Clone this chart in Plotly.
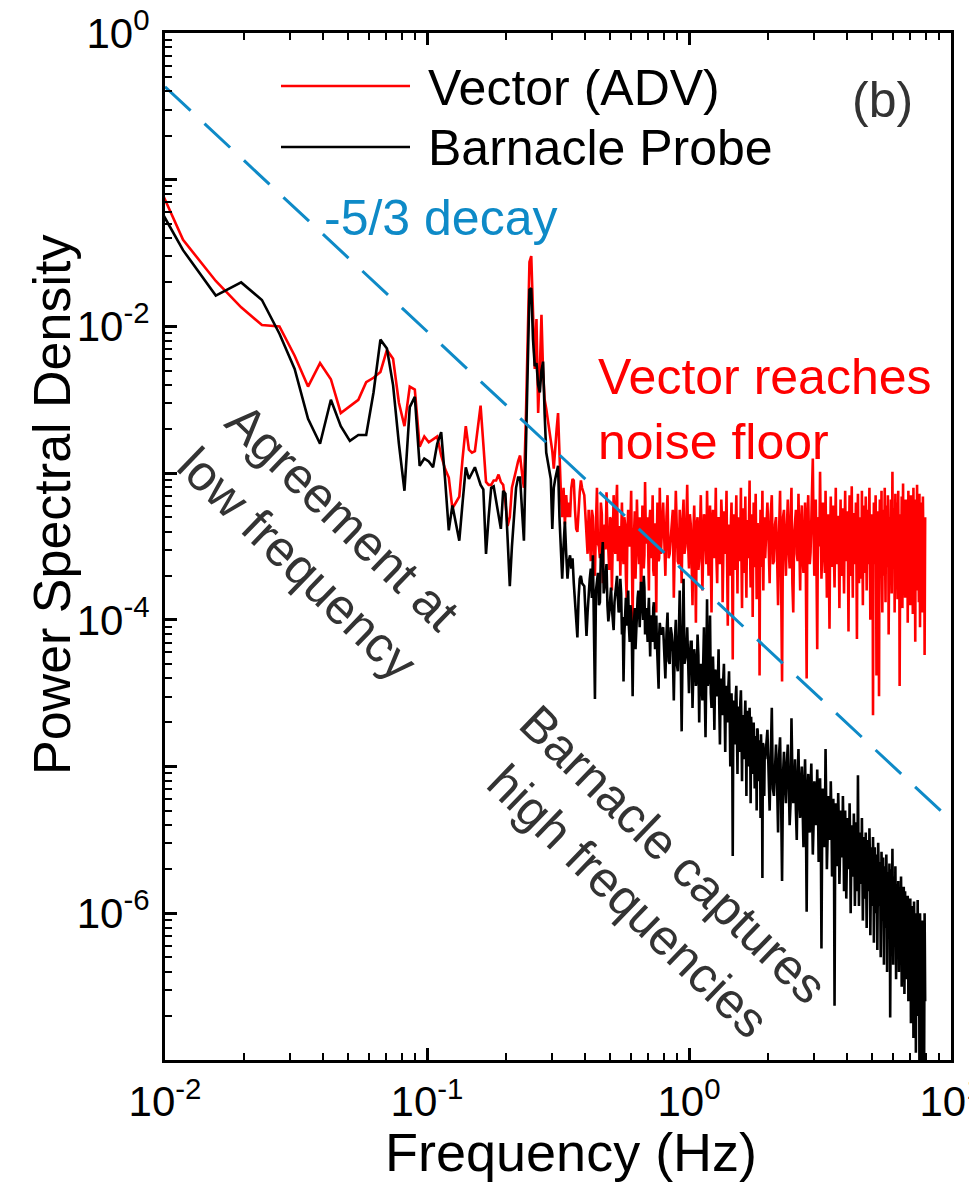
import numpy as np
import plotly.graph_objects as go

# ---------------- data ----------------
DF_HZ = 1.0 / 256.0          # spectral resolution (Hz per bin)

# log10(PSD), one value per bin, bins 2..100
vector_low = [
    -0.71, -1.41, -1.69, -1.87, -1.99, -2.00, -2.20, -2.41, -2.25, -2.36,
    -2.59, -2.54, -2.50, -2.38, -2.35, -2.31, -2.16, -2.22, -2.52, -2.68,
    -2.41, -2.43, -2.82, -2.75, -2.79, -2.77, -2.75, -2.88, -2.97, -3.03,
    -3.24, -3.20, -3.16, -2.90, -2.68, -2.84, -2.86, -2.85, -2.70, -2.54,
    -2.80, -3.06, -3.08, -3.08, -3.05, -3.05, -3.01, -3.06, -3.08, -3.20,
    -3.36, -3.30, -3.10, -3.03, -2.98, -2.92, -2.88, -3.00, -3.10, -2.65,
    -2.05, -1.56, -1.52, -1.85, -2.29, -1.95, -2.59, -2.30, -1.92, -2.31,
    -2.50, -2.56, -2.63, -2.70, -2.77, -2.85, -2.97, -2.80, -2.70, -2.59,
    -2.90, -3.13, -3.30, -3.10, -3.35, -3.15, -3.30, -3.20, -3.30, -3.10,
    -3.04, -3.05, -3.25, -3.38, -3.40, -3.20, -3.13, -3.05, -3.10,
]
barnacle_low = [
    -0.92, -1.48, -1.79, -1.70, -1.82, -2.05, -2.29, -2.63, -2.80, -2.50,
    -2.68, -2.78, -2.74, -2.74, -2.45, -2.09, -2.15, -2.40, -2.80, -3.12,
    -2.55, -2.48, -2.95, -2.90, -2.92, -2.96, -2.80, -2.72, -3.04, -3.39,
    -3.22, -3.35, -3.46, -3.20, -2.96, -3.04, -3.00, -2.96, -3.02, -3.08,
    -3.11, -3.55, -3.30, -3.10, -3.09, -3.20, -3.30, -3.38, -3.12, -3.14,
    -3.45, -3.77, -3.50, -3.30, -3.10, -3.03, -3.03, -3.25, -3.46, -2.86,
    -2.30, -1.75, -1.74, -2.09, -2.27, -2.25, -2.40, -2.45, -2.30, -2.24,
    -2.60, -2.86, -2.92, -2.98, -3.04, -3.38, -3.10, -3.04, -3.00, -2.95,
    -3.30, -3.50, -3.72, -3.50, -3.33, -3.55, -3.72, -3.60, -3.56, -3.65,
    -3.58, -3.75, -3.90, -4.05, -4.12, -3.85, -3.72, -3.70, -3.75,
]

# even bins 102..200
vector_mid1 = [
    -3.15, -3.45, -3.25, -3.60, -3.30, -3.70, -3.10, -3.50, -3.20, -3.75,
    -3.35, -3.13, -3.60, -3.30, -3.80, -3.15, -3.55, -3.08, -3.45, -3.70,
    -3.20, -3.62, -3.35, -3.85, -3.25, -3.50, -3.12, -4.01, -3.40, -3.72,
    -3.18, -3.55, -3.30, -3.90, -3.22, -3.65, -3.06, -3.48, -3.30, -3.80,
    -3.25, -3.58, -3.15, -3.70, -3.35, -3.95, -3.20, -3.60, -3.10, -3.55,
]
barnacle_mid1 = [
    -3.77, -4.11, -3.80, -3.65, -3.56, -4.54, -3.74, -3.90, -3.55, -3.47,
    -3.77, -3.62, -4.01, -3.85, -3.92, -4.07, -3.80, -3.70, -3.95, -3.72,
    -4.10, -4.42, -3.90, -4.04, -3.80, -4.15, -3.95, -4.52, -4.00, -4.20,
    -3.90, -3.80, -4.05, -3.74, -3.95, -3.70, -4.10, -3.92, -4.15, -3.85,
    -4.25, -3.97, -4.15, -3.88, -4.20, -3.97, -4.33, -4.47, -4.02, -4.10,
]
# odd bins 103..199
vector_mid1b = [
    -3.30, -3.55, -3.40, -3.25, -3.62, -3.35, -3.48, -3.58, -3.28, -3.45,
    -3.52, -3.38, -3.66, -3.32, -3.50, -3.42, -3.22, -3.60, -3.36, -3.46,
    -3.54, -3.30, -3.70, -3.40, -3.48, -3.34, -3.58, -3.44, -3.26, -3.52,
    -3.38, -3.62, -3.42, -3.50, -3.28, -3.56, -3.36, -3.46, -3.60, -3.32,
    -3.48, -3.40, -3.66, -3.35, -3.52, -3.44, -3.30, -3.58, -3.42,
]
barnacle_mid1b = [
    -3.90, -3.95, -3.72, -3.85, -4.00, -3.80, -3.68, -3.88, -3.60, -3.82,
    -3.70, -3.90, -3.95, -3.78, -4.02, -3.88, -3.75, -3.85, -3.92, -3.82,
    -3.98, -4.10, -3.85, -3.95, -4.05, -3.90, -4.15, -4.08, -3.92, -4.02,
    -3.85, -3.95, -3.88, -3.82, -4.00, -3.78, -3.92, -4.05, -3.95, -4.08,
    -3.98, -4.12, -3.92, -4.05, -4.00, -4.15, -4.28, -4.10, -4.06,
]

# bins 204..500, every 4th bin
vector_mid2 = [
    -3.20, -3.70, -3.15, -3.55, -3.30, -3.85, -3.12, -3.60, -3.25, -3.75,
    -3.18, -3.50, -3.08, -3.65, -3.35, -3.90, -3.22, -4.02, -3.30, -3.60,
    -3.15, -3.80, -3.28, -3.55, -3.12, -3.70, -3.22, -3.95, -3.25, -3.58,
    -3.10, -3.75, -3.30, -3.62, -3.18, -3.88, -3.26, -3.55, -3.12, -4.04,
    -3.35, -3.70, -3.20, -4.27, -3.28, -3.66, -3.15, -3.82, -3.30, -3.60,
    -3.10, -3.92, -3.24, -3.68, -3.16, -3.85, -3.32, -3.58, -3.05, -3.78,
    -3.28, -3.98, -3.20, -3.62, -3.14, -3.86, -3.34, -3.70, -4.38, -3.25,
    -3.64, -3.12, -3.80, -3.30, -3.58,
]
barnacle_mid2 = [
    -4.05, -4.40, -3.95, -4.30, -4.10, -4.55, -4.00, -4.35, -3.80, -4.76,
    -3.72, -4.25, -4.05, -4.50, -4.15, -4.60, -4.20, -4.45, -4.10, -4.70,
    -4.30, -4.55, -4.05, -4.80, -3.86, -4.40, -3.97, -4.60, -4.25, -4.75,
    -4.35, -4.50, -4.20, -4.85, -4.40, -4.65, -4.30, -4.90, -4.45, -4.70,
    -4.35, -5.00, -4.50, -5.61, -4.55, -4.85, -4.45, -5.05, -4.60, -4.90,
    -4.48, -5.10, -4.65, -4.95, -4.55, -5.20, -4.70, -5.00, -4.60, -5.25,
    -4.75, -5.05, -4.70, -5.15, -4.80, -5.30, -4.75, -5.10, -4.85, -5.35,
    -4.90, -5.76, -4.85, -5.20, -4.95,
]
# bins 206..498, every 4th bin
vector_mid2b = [
    -3.40, -3.30, -3.58, -3.45, -3.25, -3.52, -3.38, -3.62, -3.44, -3.32,
    -3.55, -3.36, -3.48, -3.28, -3.60, -3.42, -3.50, -3.35, -3.66, -3.40,
    -3.46, -3.54, -3.30, -3.62, -3.38, -3.48, -3.56, -3.34, -3.50, -3.42,
    -3.60, -3.36, -3.46, -3.52, -3.30, -3.58, -3.44, -3.38, -3.64, -3.40,
    -3.50, -3.34, -3.56, -3.46, -3.62, -3.38, -3.48, -3.32, -3.54, -3.42,
    -3.58, -3.36, -3.50, -3.44, -3.60, -3.40, -3.46, -3.30, -3.56, -3.48,
    -3.38, -3.52, -3.64, -3.34, -3.48, -3.42, -3.58, -3.36, -3.50, -3.44,
    -3.40, -3.54, -3.46, -3.38,
]
barnacle_mid2b = [
    -4.20, -4.10, -4.28, -4.05, -4.22, -4.15, -4.30, -4.12, -4.25, -4.18,
    -4.30, -4.22, -4.38, -4.25, -4.15, -4.35, -4.28, -4.40, -4.24, -4.32,
    -4.40, -4.30, -4.48, -4.35, -4.45, -4.28, -4.50, -4.38, -4.44, -4.34,
    -4.52, -4.42, -4.58, -4.46, -4.55, -4.40, -4.60, -4.50, -4.56, -4.45,
    -4.62, -4.55, -4.70, -4.58, -4.66, -4.52, -4.72, -4.60, -4.68, -4.56,
    -4.72, -4.66, -4.80, -4.68, -4.76, -4.62, -4.82, -4.70, -4.78, -4.66,
    -4.84, -4.76, -4.90, -4.80, -4.88, -4.74, -4.92, -4.82, -4.86, -4.78,
    -4.90, -4.84, -4.96, -4.88,
]

# bins 510..2040, every 10th bin
vector_high = [
    -3.20, -3.75, -3.15, -3.60, -3.30, -3.90, -3.12, -4.42, -3.25, -3.70,
    -3.18, -3.65, -3.10, -3.95, -3.28, -3.55, -3.14, -3.80, -3.22, -3.68,
    -3.20, -4.40, -3.15, -3.62, -3.25, -2.90, -3.70, -3.18, -4.20, -3.30,
    -2.99, -3.72, -3.20, -3.55, -3.12, -3.85, -3.28, -4.06, -3.16, -3.64,
    -3.22, -3.78, -3.10, -3.58, -3.30, -3.92, -3.18, -3.66, -3.24, -3.82,
    -3.12, -3.60, -3.26, -4.08, -3.15, -3.70, -3.09, -3.85, -3.28, -3.62,
    -3.20, -4.13, -3.14, -3.75, -3.30, -3.58, -3.12, -3.90, -3.22, -3.68,
    -3.16, -3.80, -3.25, -3.60, -3.10, -4.00, -3.28, -3.72, -4.65, -3.20,
    -3.62, -3.15, -4.38, -3.26, -3.85, -4.52, -3.18, -3.66, -3.12, -3.95,
    -3.25, -3.70, -3.10, -3.88, -3.22, -3.60, -3.15, -4.10, -3.30, -3.75,
    -3.18, -3.82, -2.99, -3.65, -3.24, -3.95, -3.14, -3.72, -3.20, -3.86,
    -3.12, -3.68, -4.45, -3.28, -3.78, -3.16, -3.92, -3.07, -3.64, -3.22,
    -3.85, -3.18, -3.70, -3.26, -4.02, -3.12, -3.76, -3.20, -3.90, -3.15,
    -3.66, -3.24, -3.96, -3.10, -3.74, -3.22, -4.15, -3.18, -3.80, -3.08,
    -3.70, -3.25, -3.88, -3.14, -4.05, -3.20, -3.72, -3.28, -3.95, -3.16,
    -3.68, -3.30, -4.24, -3.30,
]
barnacle_high = [
    -4.75, -5.30, -4.60, -5.20, -4.85, -5.45, -4.80, -5.78, -4.90, -5.25,
    -4.85, -5.40, -4.67, -5.25, -4.95, -5.50, -4.88, -5.35, -5.00, -5.55,
    -4.95, -5.99, -5.05, -5.45, -4.98, -5.60, -5.10, -5.40, -5.02, -5.65,
    -5.08, -6.24, -5.15, -5.55, -4.88, -5.70, -5.20, -5.50, -5.10, -5.75,
    -5.22, -6.63, -5.25, -5.68, -5.18, -5.80, -5.30, -5.62, -5.20, -5.85,
    -5.30, -5.90, -5.35, -5.70, -5.25, -6.00, -5.40, -5.75, -5.32, -5.95,
    -5.38, -5.85, -5.06, -5.95, -5.45, -5.80, -5.35, -6.05, -5.48, -5.90,
    -5.45, -6.10, -5.50, -5.85, -5.42, -6.15, -5.55, -5.95, -5.48, -6.20,
    -5.55, -6.00, -5.60, -6.25, -5.52, -5.95, -5.65, -6.30, -5.58, -6.05,
    -5.62, -6.35, -5.68, -6.10, -5.60, -6.40, -5.72, -6.15, -5.66, -6.71,
    -5.70, -6.25, -5.56, -6.35, -5.75, -6.20, -5.68, -6.45, -5.80, -6.30,
    -5.78, -6.40, -5.85, -6.25, -5.75, -6.50, -5.88, -6.30, -5.82, -6.55,
    -5.85, -6.45, -5.92, -6.35, -5.88, -6.60, -5.95, -6.40, -5.90, -6.75,
    -5.95, -6.50, -6.00, -6.85, -5.92, -6.55, -6.05, -6.95, -6.00, -6.60,
    -5.91, -6.70, -6.05, -7.10, -6.00, -6.80, -6.10, -7.30, -6.05, -6.90,
    -6.10, -7.20, -6.00, -6.60,
]
# bins 515..2035, every 10th bin
vector_highb = [
    -3.45, -3.28, -3.62, -3.35, -3.55, -3.40, -3.70, -3.30, -3.50, -3.38,
    -3.52, -3.33, -3.75, -3.42, -3.25, -3.60, -3.48, -3.36, -3.58, -3.44,
    -3.70, -3.30, -3.46, -3.54, -3.22, -3.40, -3.52, -3.64, -3.34, -3.50,
    -3.40, -3.55, -3.36, -3.68, -3.48, -3.32, -3.60, -3.44, -3.52, -3.38,
    -3.56, -3.42, -3.62, -3.30, -3.50, -3.46, -3.70, -3.36, -3.54, -3.40,
    -3.48, -3.34, -3.58, -3.44, -3.66, -3.38, -3.52, -3.28, -3.50, -3.42,
    -3.60, -3.36, -3.46, -3.54, -3.40, -3.72, -3.44, -3.32, -3.56, -3.48,
    -3.38, -3.50, -3.62, -3.30, -3.54, -3.42, -3.66, -3.36, -3.48, -3.58,
    -3.40, -3.52, -3.34, -3.60, -3.46, -3.38, -3.56, -3.44, -3.70, -3.32,
    -3.50, -3.42, -3.58, -3.36, -3.64, -3.46, -3.40, -3.54, -3.48, -3.30,
    -3.56, -3.40, -3.50, -3.62, -3.34, -3.48, -3.58, -3.42, -3.66, -3.38,
    -3.46, -3.54, -3.36, -3.60, -3.44, -3.52, -3.40, -3.68, -3.48, -3.34,
    -3.58, -3.42, -3.50, -3.38, -3.62, -3.46, -3.54, -3.36, -3.60, -3.44,
    -3.40, -3.52, -3.66, -3.34, -3.48, -3.58, -3.42, -3.50, -3.38, -3.56,
    -3.46, -3.60, -3.36, -3.52, -3.44, -3.64, -3.40, -3.54, -3.48, -3.38,
    -3.50, -3.42, -3.58,
]
barnacle_highb = [
    -5.00, -4.95, -5.15, -5.02, -5.10, -4.92, -5.20, -5.05, -5.12, -4.98,
    -5.10, -5.25, -5.05, -5.18, -5.30, -5.08, -5.22, -5.12, -5.28, -5.15,
    -5.30, -5.20, -5.35, -5.15, -5.28, -5.40, -5.22, -5.32, -5.25, -5.38,
    -5.35, -5.45, -5.30, -5.42, -5.25, -5.50, -5.38, -5.44, -5.32, -5.48,
    -5.45, -5.55, -5.42, -5.52, -5.38, -5.60, -5.48, -5.56, -5.44, -5.58,
    -5.55, -5.65, -5.50, -5.62, -5.48, -5.68, -5.58, -5.64, -5.52, -5.70,
    -5.62, -5.72, -5.58, -5.70, -5.55, -5.76, -5.64, -5.74, -5.60, -5.78,
    -5.70, -5.80, -5.66, -5.78, -5.62, -5.84, -5.72, -5.82, -5.68, -5.86,
    -5.78, -5.88, -5.74, -5.86, -5.70, -5.92, -5.80, -5.90, -5.76, -5.94,
    -5.86, -5.96, -5.82, -5.94, -5.78, -6.00, -5.88, -5.98, -5.84, -6.02,
    -5.92, -6.04, -5.90, -6.02, -5.86, -6.08, -5.96, -6.06, -5.92, -6.10,
    -6.00, -6.10, -5.96, -6.08, -5.94, -6.14, -6.02, -6.12, -5.98, -6.16,
    -6.06, -6.18, -6.04, -6.16, -6.00, -6.22, -6.10, -6.20, -6.08, -6.24,
    -6.14, -6.26, -6.10, -6.24, -6.08, -6.30, -6.18, -6.28, -6.12, -6.32,
    -6.22, -6.34, -6.20, -6.36, -6.16, -6.40, -6.26, -6.44, -6.24, -6.38,
    -6.30, -6.50, -6.28,
]

# segments: (first bin, bin step, values)
vector_segments = [(2, 1, vector_low), (102, 2, vector_mid1), (103, 2, vector_mid1b),
                   (204, 4, vector_mid2), (206, 4, vector_mid2b),
                   (510, 10, vector_high), (515, 10, vector_highb)]
barnacle_segments = [(2, 1, barnacle_low), (102, 2, barnacle_mid1), (103, 2, barnacle_mid1b),
                     (204, 4, barnacle_mid2), (206, 4, barnacle_mid2b),
                     (510, 10, barnacle_high), (515, 10, barnacle_highb)]

# -5/3 reference line
DECAY_EXPONENT = -5.0 / 3.0
DECAY_REF_FREQ = 0.01
DECAY_REF_PSD = 0.43

x_major = [0.01, 0.1, 1, 10]
x_ticktext = ["10<sup>-2</sup>", "10<sup>-1</sup>", "10<sup>0</sup>", "10<sup>1</sup>"]
y_major_exp = [0, -1, -2, -3, -4, -5, -6, -7]
y_labelled = {0: "10<sup>0</sup>", -2: "10<sup>-2</sup>", -4: "10<sup>-4</sup>", -6: "10<sup>-6</sup>"}


def assemble(segments):
    f, p = [], []
    for start, step, vals in segments:
        for i, v in enumerate(vals):
            f.append((start + step * i) * DF_HZ)
            p.append(10.0 ** v)
    f, p = np.array(f), np.array(p)
    order = np.argsort(f, kind="stable")
    return f[order], p[order]


f_vec, p_vec = assemble(vector_segments)
f_bar, p_bar = assemble(barnacle_segments)

decay_f = np.array([0.01, 10.0])
decay_p = DECAY_REF_PSD * (decay_f / DECAY_REF_FREQ) ** DECAY_EXPONENT

# ---------------- figure ----------------
W, H = 969, 1182
L, R, T, B = 165, 18, 33, 122
PW, PH = W - L - R, H - T - B
FONT = "Liberation Sans, Arial, sans-serif"
RED = "#ff0000"
BLUE = "#0e8ac7"
GRAY = "#333333"
LW = 2.6


def px(xp):
    return (xp - L) / PW


def py(yp):
    return (H - B - yp) / PH


fig = go.Figure()
fig.add_trace(go.Scatter(x=f_vec, y=p_vec, mode="lines", line=dict(color=RED, width=LW),
                         name="Vector (ADV)", showlegend=False))
fig.add_trace(go.Scatter(x=f_bar, y=p_bar, mode="lines", line=dict(color="black", width=LW),
                         name="Barnacle Probe", showlegend=False))
fig.add_trace(go.Scatter(x=decay_f, y=decay_p, mode="lines",
                         line=dict(color=BLUE, width=3, dash="35px,19px"),
                         name="-5/3 decay", showlegend=False))

x_minor = [m * 10.0 ** n for n in (-2, -1, 0) for m in range(2, 10)]
y_minor = [m * 10.0 ** n for n in range(-7, 0) for m in range(2, 10)]

axis_common = dict(type="log", showgrid=False, zeroline=False, showline=True, automargin=False,
                   linewidth=3, linecolor="black", ticks="inside", ticklen=12,
                   tickwidth=2.5, tickcolor="black", ticklabeloverflow="allow",
                   tickfont=dict(family=FONT, size=42, color="black"))

fig.update_xaxes(range=[-2, 1], tickmode="array", tickvals=x_major, ticktext=x_ticktext,
                 mirror="ticks", ticklabelstandoff=3,
                 minor=dict(tickmode="array", tickvals=x_minor, ticks="inside", ticklen=7,
                            tickwidth=2, tickcolor="black", showgrid=False),
                 **axis_common)
fig.update_yaxes(range=[-7, 0], tickmode="array",
                 tickvals=[10.0 ** e for e in y_major_exp],
                 ticktext=[y_labelled.get(e, "") for e in y_major_exp],
                 mirror=True, ticklabelstandoff=4,
                 minor=dict(tickmode="array", tickvals=y_minor, ticks="inside", ticklen=7,
                            tickwidth=2, tickcolor="black", showgrid=False),
                 **axis_common)

shapes = [
    dict(type="line", xref="paper", yref="paper", x0=px(281), x1=px(410), y0=py(86), y1=py(86),
         line=dict(color=RED, width=LW)),
    dict(type="line", xref="paper", yref="paper", x0=px(281), x1=px(410), y0=py(147), y1=py(147),
         line=dict(color="black", width=LW)),
]


def ann(text, x, y, size=50, color="black", xanchor="center", yanchor="middle", angle=0, align="center"):
    return dict(text=text, x=px(x), y=py(y), xref="paper", yref="paper", showarrow=False,
                xanchor=xanchor, yanchor=yanchor, textangle=angle, align=align,
                font=dict(family=FONT, size=size, color=color))


annotations = [
    ann("Vector (ADV)", 426, 88, xanchor="left"),
    ann("Barnacle Probe", 426, 148, xanchor="left"),
    ann("(b)", 882, 100, color=GRAY),
    ann("-5/3 decay", 440, 218, color=BLUE),
    ann("Vector reaches<br>noise floor", 596, 410, color=RED, xanchor="left", align="left"),
    ann("Agreement at<br>low frequency", 320, 540, color=GRAY, angle=44),
    ann("Barnacle captures<br>high frequencies", 650, 878, color=GRAY, angle=44),
    ann("Frequency (Hz)", 571, 1152, size=54),
    ann("Power Spectral Density", 52, 505, size=52, angle=-90),
]

fig.update_layout(width=W, height=H, margin=dict(l=L, r=R, t=T, b=B, pad=0, autoexpand=False),
                  paper_bgcolor="white", plot_bgcolor="white", showlegend=False,
                  shapes=shapes, annotations=annotations, hovermode=False,
                  font=dict(family=FONT))

fig.write_html("out.html", config={"displayModeBar": False},
               post_script="document.body.style.margin='0px';document.body.style.padding='0px';")
